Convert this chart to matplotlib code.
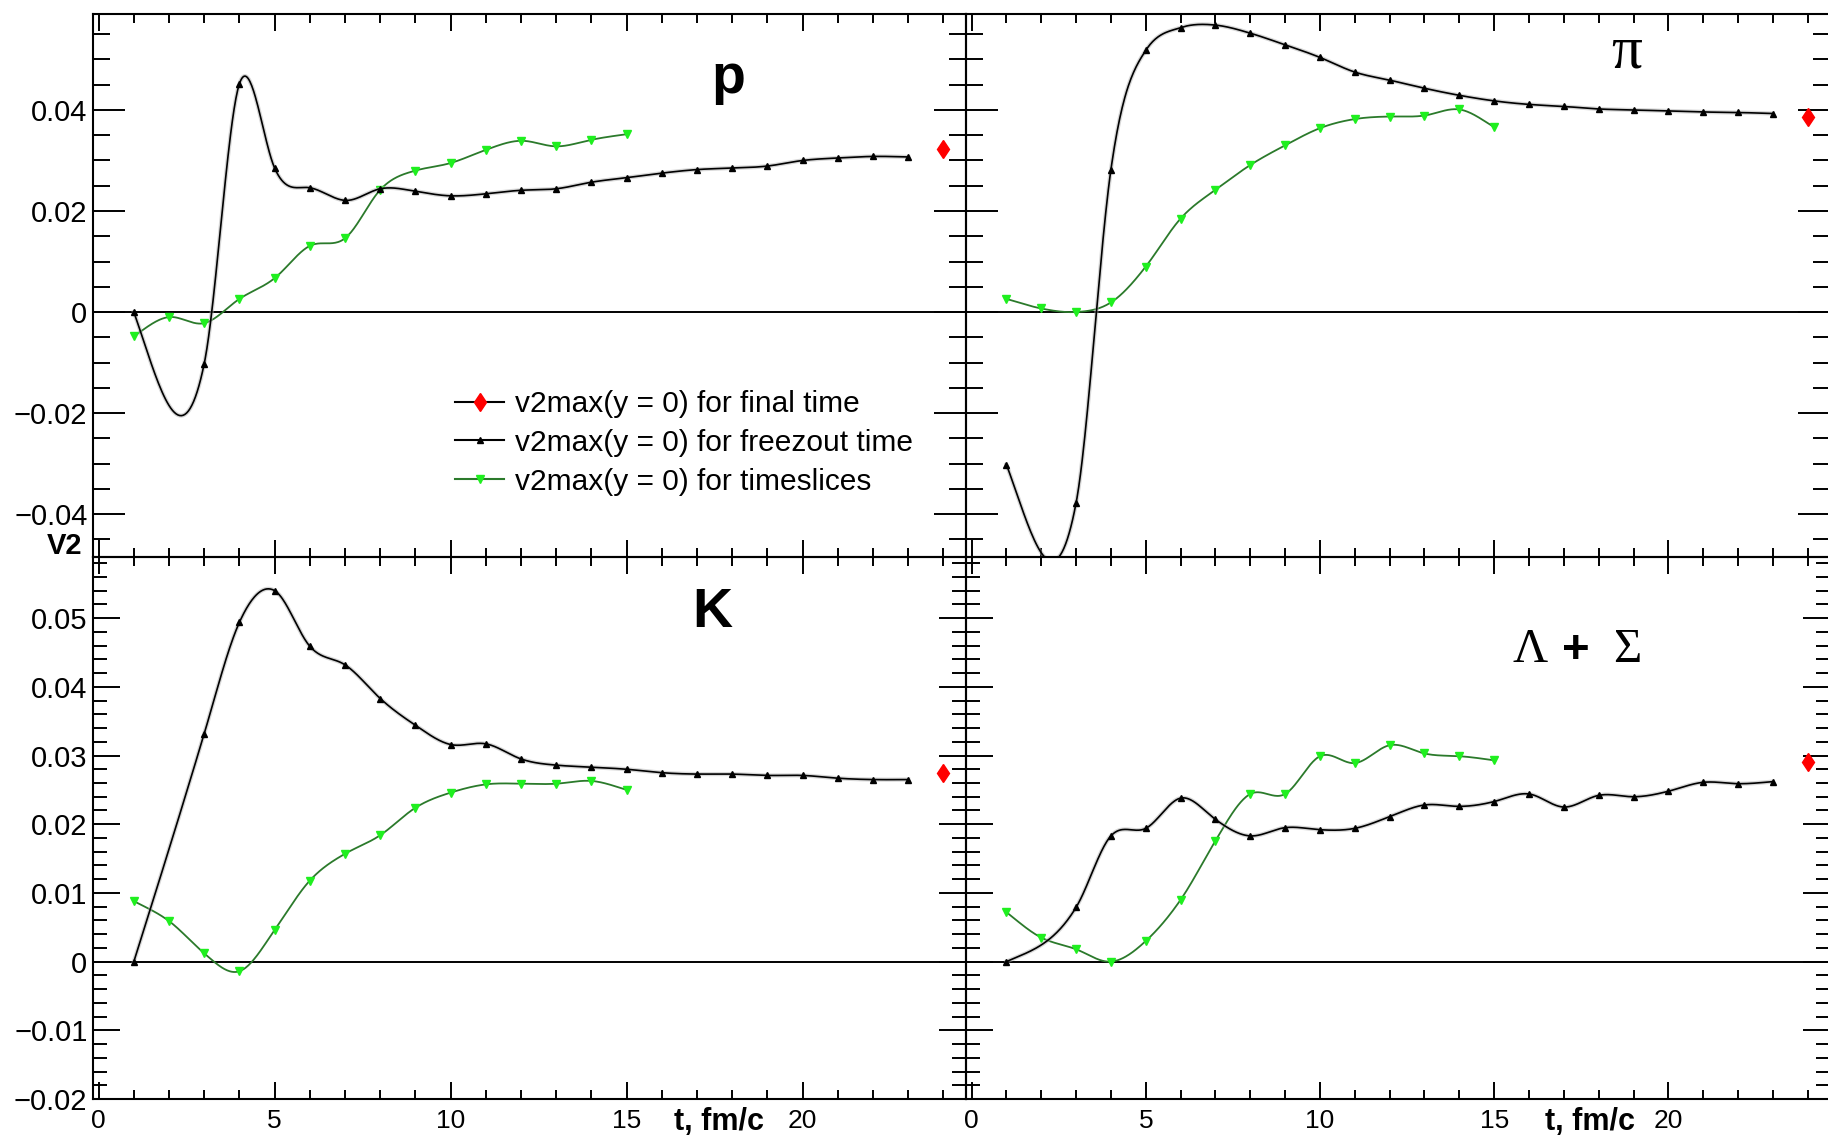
import numpy as np
import matplotlib
matplotlib.use("Agg")
import matplotlib.pyplot as plt
from matplotlib.lines import Line2D
from matplotlib.ticker import MultipleLocator, FixedLocator

# ---------------- data ----------------
t_freeze = [1, 3, 4, 5, 6, 7, 8, 9, 10, 11, 12, 13, 14, 15, 16, 17, 18, 19, 20, 21, 22, 23]
t_slices = [1, 2, 3, 4, 5, 6, 7, 8, 9, 10, 11, 12, 13, 14, 15]
t_final = [24]

p_freeze = [0.0, -0.0102, 0.0452, 0.0285, 0.0246, 0.0221, 0.0244, 0.0239, 0.0230, 0.0234, 0.0241,
            0.0244, 0.0257, 0.0266, 0.0275, 0.0282, 0.0285, 0.0289, 0.0300, 0.0305, 0.0308, 0.0307]
p_slices = [-0.0048, -0.0010, -0.0022, 0.0026, 0.0067, 0.0131, 0.0146, 0.0242, 0.0280, 0.0295,
            0.0321, 0.0339, 0.0328, 0.0341, 0.0352]
p_final = [0.0322]

pi_freeze = [-0.0302, -0.0378, 0.0282, 0.0518, 0.0563, 0.0568, 0.0552, 0.0529, 0.0504, 0.0475, 0.0459,
             0.0443, 0.0429, 0.0418, 0.0411, 0.0407, 0.0402, 0.0400, 0.0398, 0.0396, 0.0395, 0.0393]
pi_slices = [0.0026, 0.0007, 0.0000, 0.0019, 0.0090, 0.0185, 0.0242, 0.0291, 0.0330, 0.0364,
             0.0382, 0.0387, 0.0389, 0.0401, 0.0366]
pi_final = [0.0386]

k_freeze = [0.0, 0.0332, 0.0494, 0.0540, 0.0459, 0.0432, 0.0383, 0.0344, 0.0316, 0.0317, 0.0295,
            0.0286, 0.0283, 0.0280, 0.0275, 0.0273, 0.0273, 0.0271, 0.0271, 0.0267, 0.0265, 0.0265]
k_slices = [0.0088, 0.0059, 0.0012, -0.0014, 0.0046, 0.0118, 0.0157, 0.0184, 0.0224, 0.0246,
            0.0258, 0.0259, 0.0259, 0.0263, 0.0250]
k_final = [0.0275]

ls_freeze = [0.0, 0.0079, 0.0183, 0.0194, 0.0238, 0.0207, 0.0183, 0.0195, 0.0192, 0.0194, 0.0211,
             0.0228, 0.0226, 0.0233, 0.0244, 0.0225, 0.0242, 0.0240, 0.0248, 0.0261, 0.0259, 0.0262]
ls_slices = [0.0072, 0.0035, 0.0018, 0.0000, 0.0030, 0.0090, 0.0176, 0.0244, 0.0244, 0.0299,
             0.0289, 0.0315, 0.0303, 0.0299, 0.0293]
ls_final = [0.0290]

panel_labels = ["p", "\u03c0", "K", "\u039b", "+", "\u03a3"]
legend_labels = ["v2max(y = 0) for final time",
                 "v2max(y = 0) for freezout time",
                 "v2max(y = 0) for timeslices"]
x_title = "t, fm/c"
y_title = "V2"

SANS = ["Liberation Sans", "DejaVu Sans"]
SERIF = ["Liberation Serif", "DejaVu Serif"]
plt.rcParams["font.family"] = SANS


def smooth(x, y, n=40, w_nat=0.52):
    """Smooth drawing curve through the points (blend of natural cubic spline
    and Catmull-Rom Hermite curve), similar to ROOT's 'C' draw option."""
    x = np.asarray(x, float)
    y = np.asarray(y, float)
    m = len(x)
    h = np.diff(x)
    A = np.zeros((m, m))
    r = np.zeros(m)
    A[0, 0] = A[-1, -1] = 1.0
    for i in range(1, m - 1):
        A[i, i - 1] = h[i - 1]
        A[i, i] = 2 * (h[i - 1] + h[i])
        A[i, i + 1] = h[i]
        r[i] = 6 * ((y[i + 1] - y[i]) / h[i] - (y[i] - y[i - 1]) / h[i - 1])
    M = np.linalg.solve(A, r)
    T = np.zeros(m)
    T[0] = (y[1] - y[0]) / h[0]
    T[-1] = (y[-1] - y[-2]) / h[-1]
    for i in range(1, m - 1):
        T[i] = (y[i + 1] - y[i - 1]) / (x[i + 1] - x[i - 1])
    xs, ys = [], []
    for i in range(m - 1):
        tt = np.linspace(x[i], x[i + 1], n, endpoint=(i == m - 2))
        a = x[i + 1] - tt
        b = tt - x[i]
        nat = (M[i] * a ** 3 + M[i + 1] * b ** 3) / (6 * h[i]) \
            + (y[i] / h[i] - M[i] * h[i] / 6) * a + (y[i + 1] / h[i] - M[i + 1] * h[i] / 6) * b
        u = b / h[i]
        h00 = 2 * u ** 3 - 3 * u ** 2 + 1
        h10 = u ** 3 - 2 * u ** 2 + u
        h01 = -2 * u ** 3 + 3 * u ** 2
        h11 = u ** 3 - u ** 2
        cr = h00 * y[i] + h10 * h[i] * T[i] + h01 * y[i + 1] + h11 * h[i] * T[i + 1]
        xs.append(tt)
        ys.append(w_nat * nat + (1 - w_nat) * cr)
    return np.concatenate(xs), np.concatenate(ys)


W, H = 1828, 1137
fig = plt.figure(figsize=(W / 100, H / 100), dpi=100)


def px_rect(x0, y0, x1, y1):
    return [x0 / W, 1 - y1 / H, (x1 - x0) / W, (y1 - y0) / H]


XL, XM, XR = 93, 966, 1830
YT, YM, YB = 14, 557, 1099
axes = [fig.add_axes(px_rect(XL, YT, XM, YM)),
        fig.add_axes(px_rect(XM, YT, XR, YM)),
        fig.add_axes(px_rect(XL, YM, XM, YB)),
        fig.add_axes(px_rect(XM, YM, XR, YB))]

series = [(p_freeze, p_slices, p_final),
          (pi_freeze, pi_slices, pi_final),
          (k_freeze, k_slices, k_final),
          (ls_freeze, ls_slices, ls_final)]

GREEN_LINE = "#2b7a2b"
GREEN_MK = "#1fef1f"

for i, ax in enumerate(axes):
    fr, sl, fi = series[i]
    top = i < 2
    ax.set_xlim(-0.16, 24.64)
    if top:
        ax.set_ylim(-0.0485, 0.0590)
        ax.yaxis.set_major_locator(FixedLocator([-0.04, -0.02, 0.0, 0.02, 0.04]))
        ax.yaxis.set_minor_locator(MultipleLocator(0.005))
        ymaj, ymin = 23, 12
    else:
        ax.set_ylim(-0.0200, 0.0589)
        ax.yaxis.set_major_locator(FixedLocator([-0.02, -0.01, 0.0, 0.01, 0.02, 0.03, 0.04, 0.05]))
        ax.yaxis.set_minor_locator(MultipleLocator(0.002))
        ymaj, ymin = 19.5, 10
    ax.xaxis.set_major_locator(FixedLocator([0, 5, 10, 15, 20]))
    ax.xaxis.set_minor_locator(MultipleLocator(1))

    ax.axhline(0, color="black", lw=1.4, zorder=1)

    xs, ys = smooth(t_slices, sl)
    ax.plot(xs, ys, color=GREEN_LINE, lw=1.3, zorder=2)
    ax.plot(t_slices, sl, ls="none", marker="v", ms=6, color=GREEN_MK, zorder=3)

    xs, ys = smooth(t_freeze, fr)
    ax.plot(xs, ys, color="#b0b0b0", lw=3.0, alpha=0.5, zorder=3)
    ax.plot(xs, ys, color="black", lw=1.2, zorder=4)
    ax.plot(t_freeze, fr, ls="none", marker="^", ms=5, color="black", zorder=5)

    ax.plot(t_final, fi, ls="none", marker="d", ms=9.5, color="red", mec="red", zorder=5)

    for s in ax.spines.values():
        s.set_linewidth(1.5)
    ax.tick_params(axis="both", which="both", direction="in", top=True, right=True, width=1.4,
                   colors="black")
    ax.tick_params(axis="y", which="major", length=ymaj)
    ax.tick_params(axis="y", which="minor", length=ymin)
    ax.tick_params(axis="x", which="major", length=12)
    ax.tick_params(axis="x", which="minor", length=6.5)
    ax.tick_params(axis="y", labelsize=21, pad=4)
    ax.tick_params(axis="x", labelsize=19, pad=7)
    if top:
        ax.tick_params(axis="x", labelbottom=False)
    if i in (1, 3):
        ax.tick_params(axis="y", labelleft=False)
    ax.set_facecolor("none")

for i in (0, 2):
    ax = axes[i]
    locs = ax.yaxis.get_major_locator().locs
    ax.set_yticks(locs)
    ax.set_yticklabels(["0" if abs(v) < 1e-12 else ("\u2212" if v < 0 else "") + f"{abs(v):g}" for v in locs])


def figtext(xp, yp, s, **kw):
    fig.text(xp / W, 1 - yp / H, s, **kw)


figtext(728, 93, panel_labels[0], fontsize=40, fontweight="bold", ha="center", va="baseline")
figtext(1627, 67, panel_labels[1], fontsize=44, ha="center", va="baseline", family=SERIF)
figtext(712, 627, panel_labels[2], fontsize=40, fontweight="bold", ha="center", va="baseline")
figtext(1530, 662, panel_labels[3], fontsize=35, ha="center", va="baseline", family=SERIF)
figtext(1576, 663, panel_labels[4], fontsize=34, fontweight="bold", ha="center", va="baseline")
figtext(1627, 662, panel_labels[5], fontsize=35, ha="center", va="baseline", family=SERIF)

figtext(82, 546, y_title, fontsize=21, fontweight="bold", ha="right", va="center")
figtext(719, 1122, x_title, fontsize=22, fontweight="bold", ha="center", va="center")
figtext(1590, 1122, x_title, fontsize=22, fontweight="bold", ha="center", va="center")

handles = [Line2D([], [], color="black", lw=1.5, marker="d", ms=9.5, mfc="red", mec="red"),
           Line2D([], [], color="black", lw=1.5, marker="^", ms=5, mfc="black", mec="black"),
           Line2D([], [], color=GREEN_LINE, lw=1.5, marker="v", ms=6, mfc=GREEN_MK, mec=GREEN_MK)]
axes[0].legend(handles, legend_labels, loc="upper left", bbox_to_anchor=(455 / W, 1 - 390 / H),
               bbox_transform=fig.transFigure, frameon=False, fontsize=21.5, handlelength=1.65,
               handletextpad=0.35, borderpad=0, borderaxespad=0, labelspacing=0.36)

fig.savefig("out.png", dpi=100)
